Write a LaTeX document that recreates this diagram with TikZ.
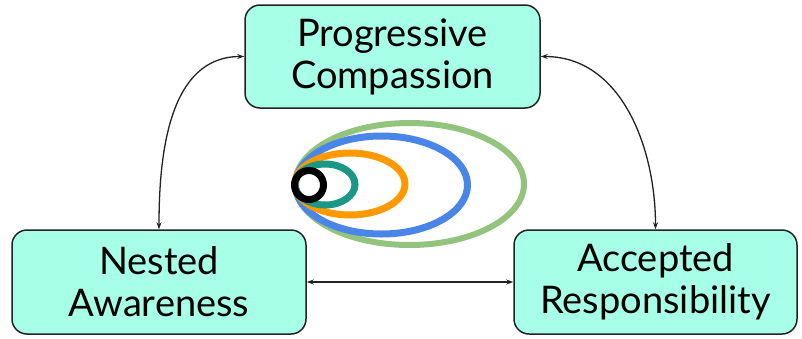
\documentclass[tikz,border=0pt]{standalone}
\usepackage{fontspec}
\setmainfont{Lato}
\usetikzlibrary{arrows.meta}
\definecolor{boxfill}{RGB}{166,255,230}
\definecolor{edge}{RGB}{34,34,34}
\definecolor{cgreen}{RGB}{147,196,125}
\definecolor{cblue}{RGB}{74,134,232}
\definecolor{corange}{RGB}{255,153,0}
\definecolor{cteal}{RGB}{26,152,133}
\begin{document}
\begin{tikzpicture}[x=1pt,y=-1pt,
  box/.style={draw=edge,line width=1.5pt,fill=boxfill,rounded corners=15pt,
    align=center,inner sep=0pt,font=\fontsize{38}{42}\selectfont},
  link/.style={draw=edge,line width=1.3pt,{Stealth[length=7pt,width=5pt]}-{Stealth[length=7pt,width=5pt]}}]
\useasboundingbox (0,0) rectangle (802,338);
\node[box,minimum width=295pt,minimum height=103pt] (pc) at (392.5,56.5) {Progressive\\Compassion};
\node[box,minimum width=294pt,minimum height=104pt] (na) at (159,282) {Nested\\Awareness};
\node[box,minimum width=283pt,minimum height=104pt] (ar) at (655.5,282) {Accepted\\Responsibility};
% nested ellipses
\draw[cgreen,line width=6pt] (409.5,184) ellipse (114.5pt and 61pt);
\draw[cblue,line width=7pt] (381.5,185) ellipse (86pt and 49pt);
\draw[corange,line width=7pt] (350,184) ellipse (55pt and 31pt);
\draw[cteal,line width=7pt] (325,184.5) ellipse (30pt and 20.5pt);
\draw[black,line width=7pt] (309,185) circle (14.5pt);
% connectors
\draw[link] (pc.west) to[out=180,in=90,looseness=1] (na.north);
\draw[link] (pc.east) to[out=0,in=90,looseness=1] (ar.north);
\draw[link] (na.east) -- (ar.west);
\end{tikzpicture}
\end{document}
